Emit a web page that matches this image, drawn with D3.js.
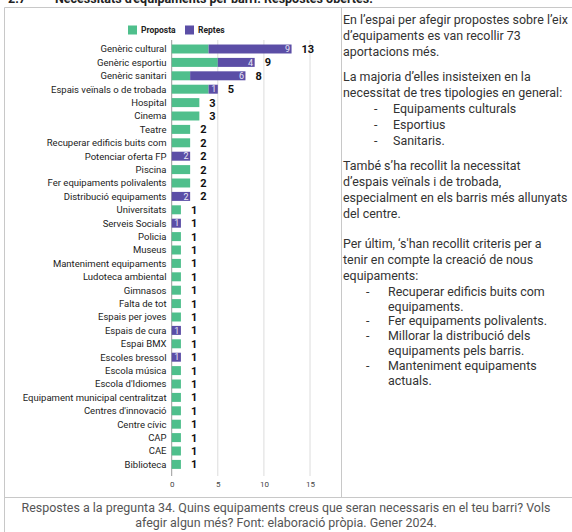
<!DOCTYPE html>
<html><head><meta charset="utf-8">
<script src="https://cdn.jsdelivr.net/npm/d3@7"></script>
<style>
html,body{margin:0;padding:0;background:#fff;}
svg{display:block;font-family:Roboto,"Noto Sans",sans-serif;}
</style></head>
<body>
<svg id="c" width="572" height="532"></svg>
<script>
const categories = ["Genèric cultural","Genèric esportiu","Genèric sanitari","Espais veïnals o de trobada","Hospital","Cinema","Teatre","Recuperar edificis buits com","Potenciar oferta FP","Piscina","Fer equipaments polivalents","Distribució equipaments","Universitats","Serveis Socials","Policia","Museus","Manteniment equipaments","Ludoteca ambiental","Gimnasos","Falta de tot","Espais per joves","Espais de cura","Espai BMX","Escoles bressol","Escola música","Escola d'Idiomes","Equipament municipal centralitzat","Centres d'innovació","Centre cívic","CAP","CAE","Biblioteca"];
const proposta = [4,5,2,4,3,3,2,2,0,2,2,0,1,0,1,1,1,1,1,1,1,0,1,0,1,1,1,1,1,1,1,1];
const reptes   = [9,4,6,1,0,0,0,0,2,0,0,2,0,1,0,0,0,0,0,0,0,1,0,1,0,0,0,0,0,0,0,0];
const seriesNames = ["Proposta","Reptes"];
const xTicks = [0,5,10,15];
const titleNum = "2.7";
const titleText = "Necessitats d'equipaments per barri. Respostes obertes.";
const sideText = [
  ["p","En l’espai per afegir propostes sobre l’eix"],
  ["p","d’equipaments es van recollir 73"],
  ["p","aportacions més."],
  ["gap",""],
  ["p","La majoria d’elles insisteixen en la"],
  ["p","necessitat de tres tipologies en general:"],
  ["b1","Equipaments culturals"],
  ["b1","Esportius"],
  ["b1","Sanitaris."],
  ["gap",""],
  ["p","També s’ha recollit la necessitat"],
  ["p","d’espais veïnals i de trobada,"],
  ["p","especialment en els barris més allunyats"],
  ["p","del centre."],
  ["gap",""],
  ["p","Per últim, ‘s'han recollit criteris per a"],
  ["p","tenir en compte la creació de nous"],
  ["p","equipaments:"],
  ["b2","Recuperar edificis buits com"],
  ["c2","equipaments."],
  ["b2","Fer equipaments polivalents."],
  ["b2","Millorar la distribució dels"],
  ["c2","equipaments pels barris."],
  ["b2","Manteniment equipaments"],
  ["c2","actuals."]
];
const footerLines = ["Respostes a la pregunta 34. Quins equipaments creus que seran necessaris en el teu barri? Vols","afegir algun més? Font: elaboració pròpia. Gener 2024."];

const colors = ["#4fbf8c","#5b4ea6"];
const svg = d3.select("#c");

// title (cropped at top, as in the source page)
const tg = svg.append("g").attr("font-size",12.5).attr("font-weight","bold").attr("fill","#222");
tg.append("text").attr("x",8).attr("y",2.5).text(titleNum);
tg.append("text").attr("x",55).attr("y",2.5).text(titleText);

// table borders
const bc = "#c8c8c8";
svg.append("line").attr("x1",4.5).attr("x2",572).attr("y1",7.5).attr("y2",7.5).attr("stroke",bc);
svg.append("line").attr("x1",4.5).attr("x2",4.5).attr("y1",7.5).attr("y2",532).attr("stroke",bc);
svg.append("line").attr("x1",341.5).attr("x2",341.5).attr("y1",7.5).attr("y2",497.5).attr("stroke",bc);
svg.append("line").attr("x1",4.5).attr("x2",572).attr("y1",497.5).attr("y2",497.5).attr("stroke",bc);

// scales
const x = d3.scaleLinear().domain([0,15]).range([171.7,310]);
const y = d3.scaleBand().domain(categories).range([42.3,471.1]).paddingInner(0.33).paddingOuter(0.165);

// grid
const g = svg.append("g");
g.selectAll("line.grid").data(xTicks).join("line")
  .attr("x1",d=>x(d)).attr("x2",d=>x(d)).attr("y1",40).attr("y2",476)
  .attr("stroke",d=>d===0?"#9a9a9a":"#dcdcdc").attr("stroke-width",1);

// axis
const ax = svg.append("g").attr("transform","translate(0,478)")
  .call(d3.axisBottom(x).tickValues(xTicks).tickSize(0).tickPadding(3));
ax.select(".domain").remove();
ax.selectAll("text").attr("font-size",8).attr("fill","#444").attr("font-family","Roboto");

// bars
const rows = categories.map((c,i)=>({c,p:proposta[i],r:reptes[i]}));
g.selectAll("rect.p").data(rows).join("rect")
  .attr("x",x(0)).attr("y",d=>y(d.c)).attr("width",d=>x(d.p)-x(0)).attr("height",y.bandwidth())
  .attr("fill",colors[0]);
g.selectAll("rect.r").data(rows).join("rect")
  .attr("x",d=>x(d.p)).attr("y",d=>y(d.c)).attr("width",d=>x(d.p+d.r)-x(d.p)).attr("height",y.bandwidth())
  .attr("fill",colors[1]);
// reptes labels inside
g.selectAll("text.rl").data(rows.filter(d=>d.r>0)).join("text")
  .attr("x",d=>x(d.p+d.r)-1.5).attr("y",d=>y(d.c)+y.bandwidth()/2).attr("dy","0.35em")
  .attr("text-anchor","end").attr("font-size",9).attr("fill","#e8e6f4").text(d=>d.r);
// totals
g.selectAll("text.tot").data(rows).join("text")
  .attr("x",d=>x(d.p+d.r)+10).attr("y",d=>y(d.c)+y.bandwidth()/2).attr("dy","0.36em")
  .attr("font-size",11).attr("font-weight","bold").attr("fill","#111").text(d=>d.p+d.r);
// category labels
g.selectAll("text.cat").data(rows).join("text")
  .attr("x",166.5).attr("y",d=>y(d.c)+y.bandwidth()/2).attr("dy","0.35em")
  .attr("text-anchor","end").attr("font-size",9.5).attr("fill","#222").text(d=>d.c);

// legend
const leg = svg.append("g").attr("transform","translate(128,30)");
const legX = [0,57];
seriesNames.forEach((n,i)=>{
  leg.append("rect").attr("x",legX[i]).attr("y",-4.5).attr("width",9).attr("height",9).attr("fill",colors[i]);
  leg.append("text").attr("x",legX[i]+13).attr("y",0).attr("dy","0.35em").attr("font-size",8.5)
    .attr("font-weight","bold").attr("fill","#222").text(n);
});

// side text
const st = svg.append("g").attr("font-size",12.45).attr("fill","#333");
let yy = 23.7;
const gaps = [9, 9, 14];
let gi = 0;
sideText.forEach(([t,s])=>{
  if(t==="gap"){ yy += gaps[gi++]; return; }
  if(t==="p") st.append("text").attr("x",343).attr("y",yy).text(s);
  if(t==="b1"){ st.append("text").attr("x",374).attr("y",yy).text("-"); st.append("text").attr("x",393).attr("y",yy).text(s); }
  if(t==="b2"){ st.append("text").attr("x",366).attr("y",yy).text("-"); st.append("text").attr("x",388).attr("y",yy).text(s); }
  if(t==="c2") st.append("text").attr("x",388).attr("y",yy).text(s);
  yy += (t==="b2"||t==="c2") ? 14.8 : 16;
});

// footer
svg.append("g").selectAll("text").data(footerLines).join("text")
  .attr("x",286).attr("y",(d,i)=>511.5+i*15.5).attr("text-anchor","middle")
  .attr("font-size",12.45).attr("fill","#555").text(d=>d);
</script>
</body></html>
